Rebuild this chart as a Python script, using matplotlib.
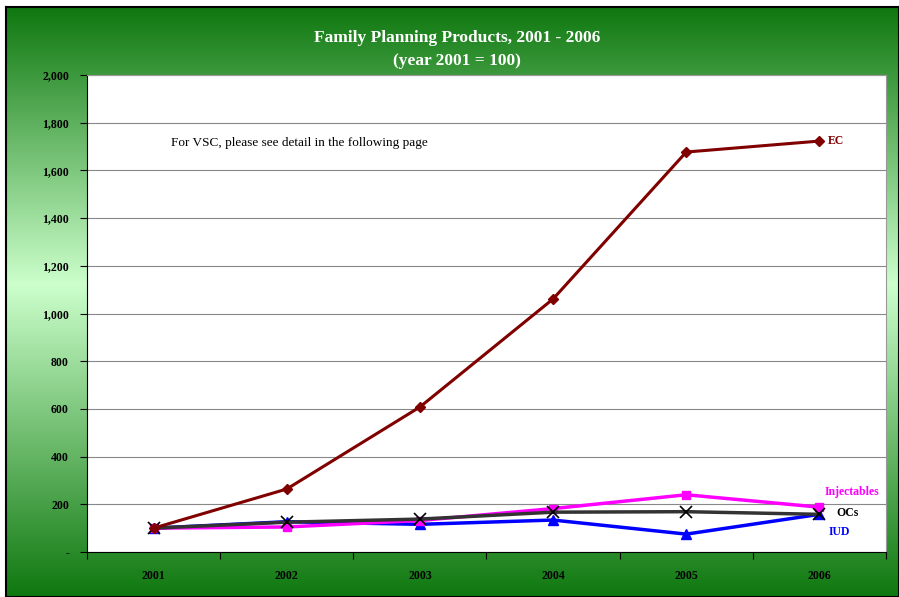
import numpy as np
import matplotlib.pyplot as plt
from matplotlib.colors import LinearSegmentedColormap

years = ["2001", "2002", "2003", "2004", "2005", "2006"]
ec = [100, 264, 608, 1061, 1677, 1723]
injectables = [100, 105, 132, 182, 240, 188]
ocs = [100, 125, 138, 167, 169, 158]
iud = [100, 127, 116, 134, 75, 158]
yticks = [0, 200, 400, 600, 800, 1000, 1200, 1400, 1600, 1800, 2000]
ytick_labels = ["-", "200", "400", "600", "800", "1,000", "1,200", "1,400", "1,600", "1,800", "2,000"]

W, H = 899, 597
fig = plt.figure(figsize=(W / 100, H / 100), dpi=100)
fig.patch.set_facecolor("white")

# green gradient background with black frame
bg = fig.add_axes([6 / W, 0, 1 - 6 / W, 1 - 7 / H])
cmap = LinearSegmentedColormap.from_list(
    "bg", [(0.0, "#0f780f"), (0.47, "#ccffcc"), (1.0, "#0f780f")])
grad = np.linspace(0, 1, 256).reshape(-1, 1)
bg.imshow(grad, aspect="auto", cmap=cmap, extent=[0, 1, 0, 1], origin="upper")
bg.set_xticks([])
bg.set_yticks([])
for s in bg.spines.values():
    s.set_color("black")
    s.set_linewidth(1.5)

serif = ["Liberation Serif", "DejaVu Serif"]
fig.text(457 / W, 1 - 38 / H, "Family Planning Products, 2001 - 2006", ha="center", va="center",
         color="white", fontsize=12.5, fontweight="bold", family=serif)
fig.text(457 / W, 1 - 61 / H, "(year 2001 = 100)", ha="center", va="center",
         color="white", fontsize=12.5, fontweight="bold", family=serif)

left, right, top, bottom = 87, 886, 75, 552
ax = fig.add_axes([left / W, 1 - bottom / H, (right - left) / W, (bottom - top) / H])
ax.set_facecolor("white")
x = np.arange(len(years))

ax.plot(x, ec, color="#800000", lw=2.2, marker="D", ms=5, zorder=5)
ax.plot(x, injectables, color="#ff00ff", lw=2.5, marker="s", ms=6, zorder=4)
ax.plot(x, iud, color="#0000ff", lw=2.5, marker="^", ms=7, zorder=3)
ax.plot(x, ocs, color="#333333", lw=2.5, marker="x", ms=9, mew=1.2,
        mec="black", zorder=4)

ax.set_xlim(-0.5, len(years) - 0.5)
ax.set_ylim(0, 2000)
ax.set_yticks(yticks)
ax.set_yticklabels(ytick_labels, fontsize=8.5, fontweight="bold", family=serif)
ax.set_xticks(np.arange(-0.5, len(years), 1))
ax.set_xticklabels([])
ax.set_xticks(x, minor=True)
ax.set_xticklabels(years, minor=True, fontsize=8.5, fontweight="bold", family=serif)
ax.tick_params(axis="x", which="minor", length=0, pad=13)
ax.tick_params(axis="x", which="major", length=5, direction="out")
ax.tick_params(axis="y", length=5, direction="out", pad=8)
ax.grid(axis="y", color="#888888", lw=0.8)
ax.set_axisbelow(True)
ax.spines["left"].set_color("black")
ax.spines["bottom"].set_color("black")
ax.spines["top"].set_color("#999999")
ax.spines["right"].set_color("#999999")

ax.text(5.06, ec[-1], "EC", color="#800000", fontsize=8.5, fontweight="bold",
        family=serif, va="center")
ax.text(5.04, injectables[-1] + 64, "Injectables", color="#ff00ff", fontsize=8.5,
        fontweight="bold", family=serif, va="center")
ax.text(5.13, ocs[-1] + 6, "OCs", color="black", fontsize=8.5,
        fontweight="bold", family=serif, va="center")
ax.text(5.07, ocs[-1] - 74, "IUD", color="#0000ff", fontsize=8.5,
        fontweight="bold", family=serif, va="center")
ax.text(0.13, 1714, "For VSC, please see detail in the following page", fontsize=9.5,
        family=serif, va="center")

fig.savefig("out.png", dpi=100)
